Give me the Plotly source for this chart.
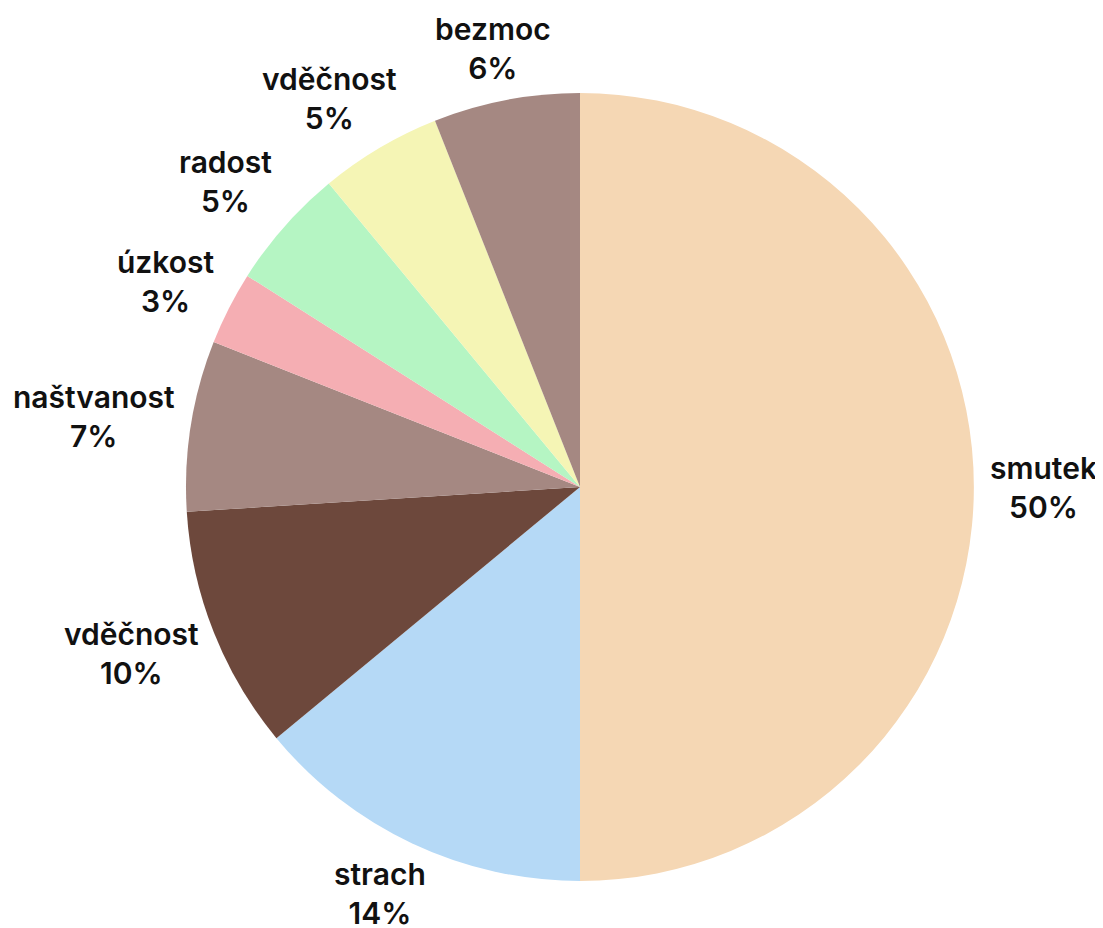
import math
import plotly.graph_objects as go

names = ["smutek", "strach", "vděčnost", "naštvanost", "úzkost", "radost", "vděčnost", "bezmoc"]
values = [50, 14, 10, 7, 3, 5, 5, 6]
colors = ["#F5D7B4", "#B5D9F6", "#6D483C", "#A58882", "#F5AEB3", "#B5F5C3", "#F5F5B5", "#A58882"]

FONT = dict(family="Inter", size=30, color="#111111", weight=600)
R = 394          # pie radius in px (domain is 788 px square)
OFF = 14         # label offset from arc edge
HALF_H = 40      # half height of a two-line label box
CHAR_W = 17      # approx. glyph width for width estimate

fig = go.Figure(go.Pie(
    labels=[str(i) for i in range(len(names))],
    values=values,
    sort=False,
    direction="clockwise",
    rotation=0,
    textinfo="none",
    hoverinfo="skip",
    marker=dict(colors=colors, line=dict(width=0)),
    showlegend=False,
))

# labels placed outside, at the middle angle of each slice
total = sum(values)
cum = 0
annotations = []
for name, v in zip(names, values):
    mid = (cum + v / 2) / total * 2 * math.pi
    cum += v
    vx, vy = math.sin(mid), -math.cos(mid)   # screen direction (y down)
    w = CHAR_W * len(name) + 8
    if abs(vx) >= abs(vy):
        xanchor = "left" if vx > 0 else "right"
        yanchor = "middle"
        dx = (R + OFF) * vx
        dy = R * vy + HALF_H * vy / abs(vx) + OFF * vy
    else:
        xanchor = "center"
        yanchor = "top" if vy > 0 else "bottom"
        dx = R * vx + (w / 2) * vx / abs(vy) + OFF * vx
        dy = (R + OFF - 2) * vy
    annotations.append(dict(
        x=0.5, y=0.5, xref="paper", yref="paper",
        text=f"{name}<br>{v}%", showarrow=False,
        xanchor=xanchor, yanchor=yanchor,
        xshift=dx, yshift=-dy, align="center",
        font=FONT,
    ))

fig.update_layout(
    width=1103, height=928,
    margin=dict(l=178, r=137, t=85, b=55),
    paper_bgcolor="white",
    plot_bgcolor="white",
    annotations=annotations,
)
fig.write_html("out.html")
